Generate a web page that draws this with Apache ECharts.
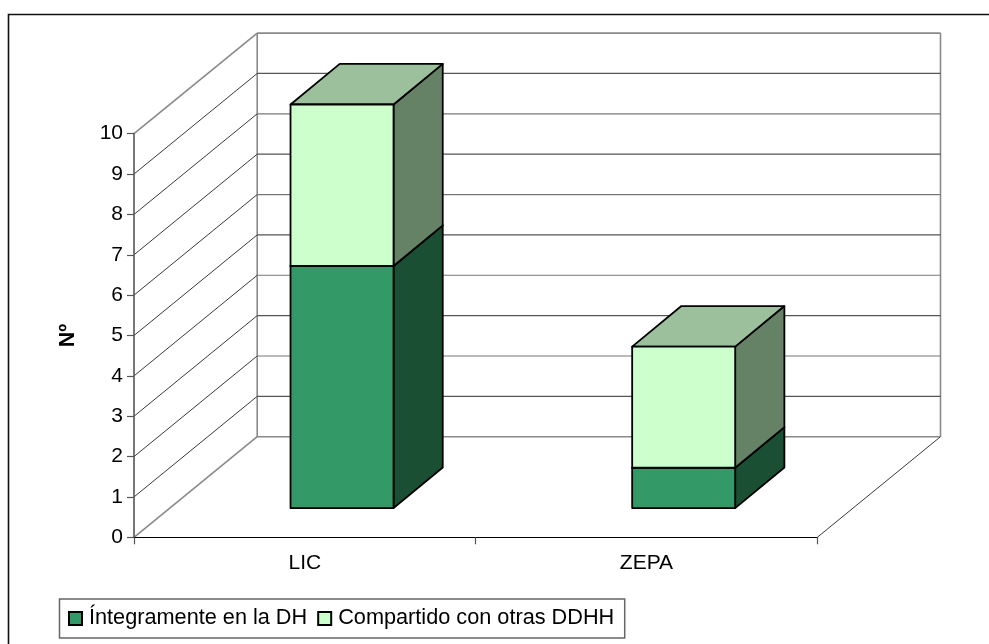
<!DOCTYPE html>
<html>
<head>
<meta charset="utf-8">
<style>html,body{margin:0;padding:0;background:#fff}#chart{width:989px;height:644px}</style>
<script src="https://cdn.jsdelivr.net/npm/echarts@6/dist/echarts.min.js"></script>
</head>
<body>
<div id="chart"></div>
<script>
// Spatial-designation counts per category, stacked.
const categories = ['LIC', 'ZEPA'];
const integramente = [6, 1];
const compartido = [4, 3];
const valueTicks = [0, 1, 2, 3, 4, 5, 6, 7, 8, 9, 10];

const seriesNames = ['Íntegramente en la DH', 'Compartido con otras DDHH'];
const FONT = '"Liberation Sans", Arial, sans-serif';

// Oblique projection of the box: pixel shift of the back wall, of the bar base, of a bar's depth.
const WALL = [123.2, -100.6];
const LIFT = [37.2, -29.2];
const DEPTH = [49.2, -40.6];
const BAR_SHARE = 0.3015;

const chart = echarts.init(document.getElementById('chart'), null, { renderer: 'canvas' });

function renderWalls(params, api) {
  const v = api.value(0);
  const halfBand = api.size([1, 0])[0] / 2;
  const left = api.coord([0, v]);
  const right = api.coord([categories.length - 1, v]);
  const x0 = left[0] - halfBand, y = left[1], x1 = right[0] + halfBand;
  const edge = v === valueTicks[0] || v === valueTicks[valueTicks.length - 1];
  const thin = { stroke: '#3a3a3a', lineWidth: 1 };
  const heavy = { stroke: '#8a8a8a', lineWidth: 1.6 };
  const children = [
    { type: 'line', shape: { x1: x0, y1: y, x2: x0 + WALL[0], y2: y + WALL[1] }, style: edge ? heavy : thin },
    { type: 'line', shape: { x1: x0 + WALL[0], y1: y + WALL[1], x2: x1 + WALL[0], y2: y + WALL[1] },
      style: edge ? heavy : { stroke: v % 2 ? '#555' : '#777', lineWidth: 1.2 } }
  ];
  if (v === valueTicks[0]) {
    // floor edge on the right, and the two upright wall edges
    const top = api.coord([0, valueTicks[valueTicks.length - 1]])[1];
    children.push(
      { type: 'line', shape: { x1: x1, y1: y, x2: x1 + WALL[0], y2: y + WALL[1] }, style: thin },
      { type: 'line', shape: { x1: x0 + WALL[0], y1: y + WALL[1], x2: x0 + WALL[0], y2: top + WALL[1] }, style: heavy },
      { type: 'line', shape: { x1: x1 + WALL[0], y1: y + WALL[1], x2: x1 + WALL[0], y2: top + WALL[1] }, style: heavy }
    );
  }
  return { type: 'group', children };
}

function blockRenderer(front, side, top) {
  return function (params, api) {
    const idx = api.value(0);
    const p0 = api.coord([idx, api.value(1)]);
    const p1 = api.coord([idx, api.value(2)]);
    const w = api.size([1, 0])[0] * BAR_SHARE;
    const xl = p0[0] - w / 2 + LIFT[0], xr = xl + w;
    const yb = p0[1] + LIFT[1], yt = p1[1] + LIFT[1];
    const dx = DEPTH[0], dy = DEPTH[1];
    const line = { stroke: '#000', lineWidth: 1.8, lineJoin: 'round' };
    const face = (points, fill) => ({
      type: 'polygon', shape: { points }, style: Object.assign({ fill }, line)
    });
    return {
      type: 'group',
      children: [
        face([[xr, yb], [xr + dx, yb + dy], [xr + dx, yt + dy], [xr, yt]], side),
        face([[xl, yt], [xr, yt], [xr + dx, yt + dy], [xl + dx, yt + dy]], top),
        face([[xl, yb], [xr, yb], [xr, yt], [xl, yt]], front)
      ]
    };
  };
}

const lowerData = categories.map((c, i) => [i, 0, integramente[i]]);
const upperData = categories.map((c, i) => [i, integramente[i], integramente[i] + compartido[i]]);

chart.setOption({
  animation: false,
  backgroundColor: '#fff',
  textStyle: { fontFamily: FONT },
  grid: { left: 134, right: 171.7, top: 133.7, bottom: 106.7, containLabel: false },
  legend: {
    data: seriesNames,
    left: 59.5,
    top: 599,
    orient: 'horizontal',
    itemWidth: 13,
    itemHeight: 13,
    itemGap: 10,
    padding: [8.5, 10.5, 8.5, 8.5],
    borderColor: '#666',
    borderWidth: 1.5,
    icon: 'rect',
    selectedMode: false,
    textStyle: { fontFamily: FONT, fontSize: 21.7, color: '#000', padding: [0, 0, 0, 2] }
  },
  xAxis: {
    type: 'category',
    data: categories,
    boundaryGap: true,
    z: 5,
    axisLine: { lineStyle: { color: '#000', width: 1.2 } },
    axisTick: { show: true, alignWithLabel: false, length: 7, lineStyle: { color: '#555', width: 1.2 } },
    axisLabel: { fontFamily: FONT, fontSize: 21, color: '#000', margin: 15 }
  },
  yAxis: {
    type: 'value',
    min: 0,
    max: 10,
    interval: 1,
    z: 5,
    name: 'Nº',
    nameLocation: 'middle',
    nameGap: 55,
    nameRotate: 90,
    nameTextStyle: { fontFamily: FONT, fontSize: 21.5, fontWeight: 'bold', color: '#000' },
    axisLine: { show: true, lineStyle: { color: '#555', width: 1.6 } },
    axisTick: { show: true, length: 7, lineStyle: { color: '#555', width: 1.2 } },
    axisLabel: { fontFamily: FONT, fontSize: 21, color: '#000', margin: 11 },
    splitLine: { show: false }
  },
  graphic: [{
    type: 'polyline',
    silent: true,
    z: 10,
    shape: { points: [[8.5, 644], [8.5, 14.5], [989, 14.5]] },
    style: { fill: 'none', stroke: '#111', lineWidth: 1.6 }
  }],
  series: [
    {
      type: 'custom',
      name: 'walls',
      coordinateSystem: 'cartesian2d',
      silent: true,
      z: 1,
      clip: false,
      data: valueTicks.map(v => [v]),
      encode: { x: [], y: 0 },
      renderItem: renderWalls
    },
    {
      type: 'custom',
      name: seriesNames[0],
      coordinateSystem: 'cartesian2d',
      z: 2,
      clip: false,
      itemStyle: { color: '#339966', borderColor: '#000', borderWidth: 1.5 },
      data: lowerData,
      encode: { x: 0, y: [1, 2] },
      renderItem: blockRenderer('#339966', '#1b4f33', '#1b4f33')
    },
    {
      type: 'custom',
      name: seriesNames[1],
      coordinateSystem: 'cartesian2d',
      z: 3,
      clip: false,
      itemStyle: { color: '#ccffcc', borderColor: '#000', borderWidth: 1.5 },
      data: upperData,
      encode: { x: 0, y: [1, 2] },
      renderItem: blockRenderer('#ccffcc', '#668266', '#9cc09c')
    }
  ]
});
</script>
</body>
</html>
